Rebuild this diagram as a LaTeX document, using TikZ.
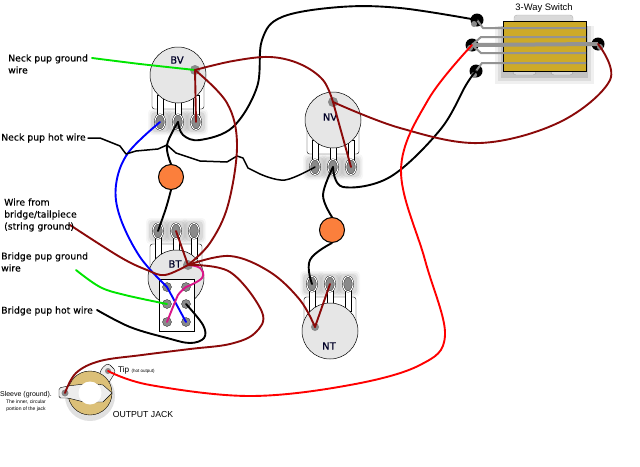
\documentclass[tikz,border=0pt]{standalone}
\usepackage{fontspec}
\setmainfont{DejaVu Sans}[FakeBold=0.35]
\newfontfamily\helv{Liberation Sans}
\usetikzlibrary{
    shapes.geometric,
    calc,
    positioning
}
\definecolor{maroonwire}{HTML}{8B0A0A}
\definecolor{potgrey}{HTML}{E6E6E6}
\definecolor{soldergrey}{HTML}{8A8A8A}
\definecolor{switchgold}{HTML}{CDAA28}
\definecolor{ringgold}{HTML}{DCC078}
\definecolor{caporange}{HTML}{FB7F3C}
\tikzset{
    wire/.style={line width=1.9pt, line join=round, line cap=round},
    blackwire/.style={wire, black},
    brownwire/.style={wire, maroonwire},
    lug/.style={ellipse, draw=black, line width=0.35pt, double=white, double distance=1pt, fill=soldergrey, inner sep=0pt, minimum width=10pt, minimum height=15pt},
    solder/.style={circle, fill=soldergrey, inner sep=0pt, minimum size=10pt},
    capnode/.style={circle, draw=black, line width=1pt, fill=caporange, inner sep=0pt, minimum size=25pt},
    switchlug/.style={circle, fill=black, inner sep=0pt, minimum size=13pt},
    switchbar/.style={line width=2pt, color=gray!85},
    dot/.style={circle, fill=soldergrey, draw=black, line width=0.2pt, inner sep=0pt, minimum size=9pt},
    note/.style={font=\fontsize{9.3}{12}\selectfont, align=left, anchor=west, inner sep=0pt},
    potlabel/.style={font=\fontsize{10}{12}\selectfont, text=black!85!blue, inner sep=0pt}
}
% #1 name, #2 centre, #3 +1 lugs below, -1 lugs above
\newcommand{\potmeter}[3]{
    \begin{scope}[shift={#2}, yscale=#3]
        \foreach \s/\x in {L/-18, M/0, R/18}
            \foreach \r/\o in {4/0.03, 2.5/0.05, 1/0.07}
                \fill[black, opacity=\o, rounded corners=4pt] (\x-8-\r, 38-\r) rectangle (\x+8+\r, 56+\r);
        \draw[fill=white, line width=0.4pt, rounded corners=2.5pt] (-26, 0) rectangle (26, 34);
        \foreach \s/\x in {L/-18, M/0, R/18} {
            \draw[fill=white, line width=0.4pt] (\x-3, 20) rectangle (\x+3, 42);
            \node[lug] (#1\s) at (\x, 47) {};
        }
        \draw[fill=potgrey, line width=0.5pt] (0, 0) circle (28);
    \end{scope}
}
\begin{document}
\begin{tikzpicture}[x=1pt, y=-1pt]
    \useasboundingbox (0, 0) rectangle (640, 466);
    \potmeter{bv}{(178, 75)}{1}
    \potmeter{nv}{(333, 120)}{1}
    \potmeter{bt}{(176, 278)}{-1}
    \potmeter{nt}{(330, 331)}{-1}
    \node[potlabel] at (177, 60) {BV};
    \node[potlabel] at (330, 117) {NV};
    \node[potlabel] at (175, 264) {BT};
    \node[potlabel] at (329, 346) {NT};
    \node[solder] (bvS) at (195, 70) {};
    \node[solder] (nvS) at (333, 102) {};
    \node[solder] (btS) at (188, 265) {};
    \node[solder, minimum size=8pt] (ntS) at (315, 327) {};

    % switch on the pickup selector
    \foreach \r/\o in {8/0.06, 5/0.08, 2/0.12}
        \fill[black, opacity=\o] (503-\r, 26) rectangle (586+\r, 76+\r);
    \draw[fill=gray!30, rounded corners=3pt, draw=gray!60] (514, 21) -- (514, 15) -- (573, 15) -- (573, 21);
    \draw[fill=gray!30, rounded corners=3pt, draw=gray!70] (513, 70) rectangle (536, 75);
    \draw[fill=gray!30, rounded corners=3pt, draw=gray!70] (551, 70) rectangle (573, 75);
    \node[draw=black, line width=0.6pt, fill=switchgold, inner sep=0pt, minimum width=83pt, minimum height=50pt] (switch) at (544.5, 46) {};
    \node[font=\helv\fontsize{9.4}{10}\selectfont, inner sep=0pt] (switchlabel) at (544, 8) {3-Way Switch};
    \node[switchlug] (swA) at (477, 20) {};
    \node[switchlug] (swB) at (472, 45) {};
    \node[switchlug] (swC) at (476, 71) {};
    \node[switchlug] (swD) at (598, 44) {};
    \draw[switchbar] (swA.center) -- (483, 28) -- (586, 28);
    \draw[switchbar] (swB.center) -- (481, 37) -- (586, 37);
    \draw[switchbar] (swB.center) -- (481, 53) -- (586, 53);
    \draw[switchbar] (swC.center) -- (482, 63) -- (586, 63);
    \draw[switchbar, line width=4pt] (swB.center) -- (swD.center);
    \fill[soldergrey] (474, 24) circle (3) (470, 48) circle (3) (474, 75) circle (3) (600, 47) circle (3);

    % output jack
    \fill[black, opacity=0.12] (90, 396) circle (25);
    \draw[fill=potgrey!70!white, line width=0.4pt, rounded corners=3pt] (99, 378) -- (101, 369) -- (108, 363) -- (116, 371) -- (108, 384) -- cycle;
    \node[circle, draw=black, line width=0.4pt, fill=ringgold, inner sep=0pt, minimum size=44pt] (jack) at (90, 393) {};
    \draw[fill=potgrey!70!white, line width=0.4pt, rounded corners=1.5pt] (59, 388) -- (68, 386) -- (84, 384) -- (84, 402) -- (68, 398) -- (59, 398) -- cycle;
    \draw[fill=potgrey!70!white, line width=0.4pt] (96, 384) -- (103, 385) -- (112, 393) -- (103, 402) -- (96, 402) -- cycle;
    \node[circle, draw=none, fill=white, inner sep=0pt, minimum size=23pt] (jackhole) at (90, 393) {};
    \node[circle, fill=soldergrey, inner sep=0pt, minimum size=7pt] (sleeve) at (65, 393) {};
    \node[circle, fill=soldergrey, inner sep=0pt, minimum size=6pt] (tip) at (108, 371) {};

    % caps
    \node[capnode] (capA) at (171, 177) {};
    \node[capnode] (capB) at (332, 230) {};

    % tone switch plate
    \node[draw=black, line width=0.6pt, fill=white, inner sep=0pt, minimum width=35pt, minimum height=52pt] (plate) at (176.5, 305) {};
    \node[dot] (pA) at (167, 287) {};
    \node[dot] (pB) at (186, 287) {};
    \node[dot] (pC) at (167, 304) {};
    \node[dot] (pD) at (186, 304) {};
    \node[dot] (pE) at (167, 322) {};
    \node[dot] (pF) at (186, 322) {};

    % free wire ends
    \coordinate (neckground) at (92, 58);
    \coordinate (neckhot) at (88, 138);
    \coordinate (stringground) at (70, 225);
    \coordinate (bridgeground) at (76, 270);
    \coordinate (bridgehot) at (97, 310);

    % wires
    \draw[wire, green!90!black] plot[smooth, tension=0.4] coordinates {(neckground) (140, 64) (bvS.center)};
    \draw[wire, green!90!black] plot[smooth, tension=0.6] coordinates {(bridgeground) (100, 287) (125, 295) (pC.center)};
    \draw[wire, blue] plot[smooth, tension=0.6] coordinates {(bvL.center) (128, 153) (116, 185) (120, 217) (140, 257) (pA.center)};
    \draw[wire, blue] (pA.center) -- (pF.center);
    \draw[wire, magenta!80!violet] plot[smooth, tension=0.7] coordinates {(btS.center) (200, 268) (202, 278) (pB.center)};
    \draw[wire, magenta!80!violet] plot[smooth, tension=0.3] coordinates {(pB.center) (178, 295) (pE.center)};

    \draw[blackwire, line width=1.5pt] plot coordinates {(neckhot) (100, 138) (120, 146) (126, 154) (136, 151) (158, 149) (167, 145) (176, 153) (200, 161) (227, 162) (237, 156) (243, 158) (248, 168) (260, 174)};
    \draw[blackwire, line width=1.5pt] plot[smooth, tension=0.6] coordinates {(260, 174) (285, 180) (nvL.center)};
    \draw[blackwire] plot[smooth, tension=0.6] coordinates {(bvM.center) (167, 145) (capA.north)};
    \draw[blackwire] plot[smooth, tension=0.6] coordinates {(capA.south) (166, 208) (btL.center)};
    \draw[blackwire] plot[smooth, tension=0.6] coordinates {(bvM.center) (183, 135) (200, 140) (233, 127) (257, 87) (262, 40) (282, 17) (340, 7) (400, 8) (swA.center)};
    \draw[blackwire] plot[smooth, tension=0.6] coordinates {(nvM.center) (323, 195) (capB.north)};
    \draw[blackwire] plot[smooth, tension=0.7] coordinates {(capB.south) (310, 260) (ntL.center)};
    \draw[blackwire] plot[smooth, tension=0.6] coordinates {(nvM.center) (343, 187) (390, 177) (440, 130) (466, 85) (swC.center)};
    \draw[blackwire] plot[smooth, tension=0.6] coordinates {(bridgehot) (130, 327) (167, 338) (190, 343) (204, 338) (203, 325) (pD.center)};

    \draw[brownwire] (bvS.center) -- (bvR.center);
    \draw[brownwire] plot[smooth, tension=0.6] coordinates {(bvS.center) (233, 61) (270, 57) (300, 64) (323, 80) (nvS.center)};
    \draw[brownwire] plot[smooth, tension=0.6] coordinates {(bvS.center) (227, 103) (237, 145) (228, 205) (210, 243) (btS.center)};
    \draw[brownwire] (nvS.center) -- (nvR.center);
    \draw[brownwire] plot[smooth, tension=0.6] coordinates {(nvS.center) (400, 128) (480, 143) (560, 122) (610, 80) (swD.center)};
    \draw[brownwire] (btS.center) -- (btM.center);
    \draw[brownwire] plot[smooth, tension=0.6] coordinates {(stringground) (120, 257) (147, 270) (165, 275) (btS.center)};
    \draw[brownwire] plot[smooth, tension=0.6] coordinates {(btS.center) (230, 256) (270, 272) (300, 300) (ntS.center)};
    \draw[brownwire] plot[smooth, tension=0.6] coordinates {(btS.center) (230, 272) (262, 312) (255, 333) (230, 344) (190, 349) (142, 355) (100, 361) (76, 373) (sleeve.center)};
    \draw[brownwire] (ntS.center) -- (ntM.center);
    \draw[wire, red] plot[smooth, tension=0.6] coordinates {(tip.center) (150, 385) (250, 396) (350, 385) (420, 365) (445, 335) (425, 260) (401, 170) (428, 100) (swB.center)};

    % labels
    \node[note] (neckgroundtext) at (8, 64) {Neck pup ground\\wire};
    \node[note] (neckhottext) at (1, 138) {Neck pup hot wire};
    \node[note] (stringtext) at (4, 215) {Wire from\\bridge/tailpiece\\(string ground)};
    \node[note] (bridgegroundtext) at (1, 262) {Bridge pup ground\\wire};
    \node[note] (bridgehottext) at (1, 311) {Bridge pup hot wire};
    \node[font=\helv\fontsize{7}{7}\selectfont, align=center, inner sep=0pt] (sleevetext) at (26, 401) {Sleeve (ground).\\{\fontsize{5}{7}\selectfont The inner, circular}\\{\fontsize{5}{7}\selectfont portion of the jack}};
    \node[font=\helv\fontsize{8.2}{9}\selectfont, anchor=west, inner sep=0pt] (tiptext) at (118, 370) {Tip {\fontsize{4.5}{6}\selectfont (hot output)}};
    \node[font=\helv\fontsize{8.7}{10}\selectfont, inner sep=0pt] (jacktext) at (143, 414) {OUTPUT JACK};
\end{tikzpicture}
\end{document}
